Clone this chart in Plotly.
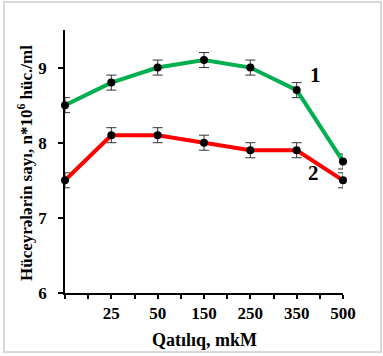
import plotly.graph_objects as go

categories = ["", "25", "50", "150", "250", "350", "500"]
series1 = [8.5, 8.8, 9.0, 9.1, 9.0, 8.7, 7.75]
series1_err = [0.1, 0.1, 0.1, 0.1, 0.1, 0.1, 0.1]
series2 = [7.5, 8.1, 8.1, 8.0, 7.9, 7.9, 7.5]
series2_err = [0.1, 0.1, 0.1, 0.1, 0.1, 0.1, 0.1]
y_ticks = [6, 7, 8, 9]

FONT = "Liberation Serif"
xpos = list(range(len(categories)))

fig = go.Figure()
for vals, err, color in [(series1, series1_err, "#00b050"), (series2, series2_err, "#ff0000")]:
    fig.add_trace(go.Scatter(
        x=xpos, y=vals, mode="lines+markers",
        line=dict(color=color, width=4),
        marker=dict(color="black", size=8),
        error_y=dict(type="data", array=err, visible=True, color="#333333", thickness=1, width=5),
        cliponaxis=False, showlegend=False,
    ))

label_pos = [i for i, c in enumerate(categories) if c]
label_txt = ["<b>%s</b>" % c for c in categories if c]

fig.update_layout(
    width=383, height=356,
    margin=dict(l=65, r=40, t=30, b=63),
    paper_bgcolor="white", plot_bgcolor="white",
    font=dict(family=FONT, size=17, color="black"),
    xaxis=dict(range=[0, 6], tickmode="array", tickvals=label_pos, ticktext=label_txt,
               showgrid=False, zeroline=False, showline=True, linecolor="black", linewidth=2,
               ticks="outside", ticklen=4, tickwidth=1.5, tickcolor="black",
               minor=dict(dtick=0.5, tick0=0, ticks="outside", ticklen=4, tickwidth=1.5,
                          tickcolor="black", showgrid=False),
               tickfont=dict(family=FONT, size=17)),
    yaxis=dict(range=[6, 9.5], tickvals=y_ticks, ticktext=["<b>%d</b>" % v for v in y_ticks],
               showgrid=False, zeroline=False, showline=True, linecolor="black", linewidth=1.5,
               ticks="outside", ticklen=5, tickwidth=1.5, tickcolor="black",
               ticklabelstandoff=8,
               tickfont=dict(family=FONT, size=17)),
    shapes=[dict(type="rect", xref="paper", yref="paper",
                 x0=(4 - 65) / 278, x1=(381 - 65) / 278,
                 y0=(293 - 352) / 263, y1=(293 - 2) / 263,
                 line=dict(color="#d9d9d9", width=2), layer="below")],
    annotations=[
        dict(text="<b>Qatılıq, mkM</b>", xref="paper", yref="paper", x=0.5, y=(293 - 340) / 263,
             showarrow=False, font=dict(family=FONT, size=18), xanchor="center", yanchor="middle"),
        dict(text="<b>Hüceyrələrin sayı, n*10<sup>6</sup> hüc./ml</b>", xref="paper", yref="paper",
             x=(25 - 65) / 278, y=(293 - 163) / 263, textangle=-90, showarrow=False,
             font=dict(family=FONT, size=17), xanchor="center", yanchor="middle"),
        dict(text="<b>1</b>", xref="paper", yref="paper", x=(315 - 65) / 278, y=(293 - 75) / 263,
             showarrow=False, font=dict(family=FONT, size=21), xanchor="center", yanchor="middle"),
        dict(text="<b>2</b>", xref="paper", yref="paper", x=(313 - 65) / 278, y=(293 - 173) / 263,
             showarrow=False, font=dict(family=FONT, size=21), xanchor="center", yanchor="middle"),
    ],
)

fig.write_html("out.html", config={"displayModeBar": False},
               post_script="document.body.style.margin='0';")
